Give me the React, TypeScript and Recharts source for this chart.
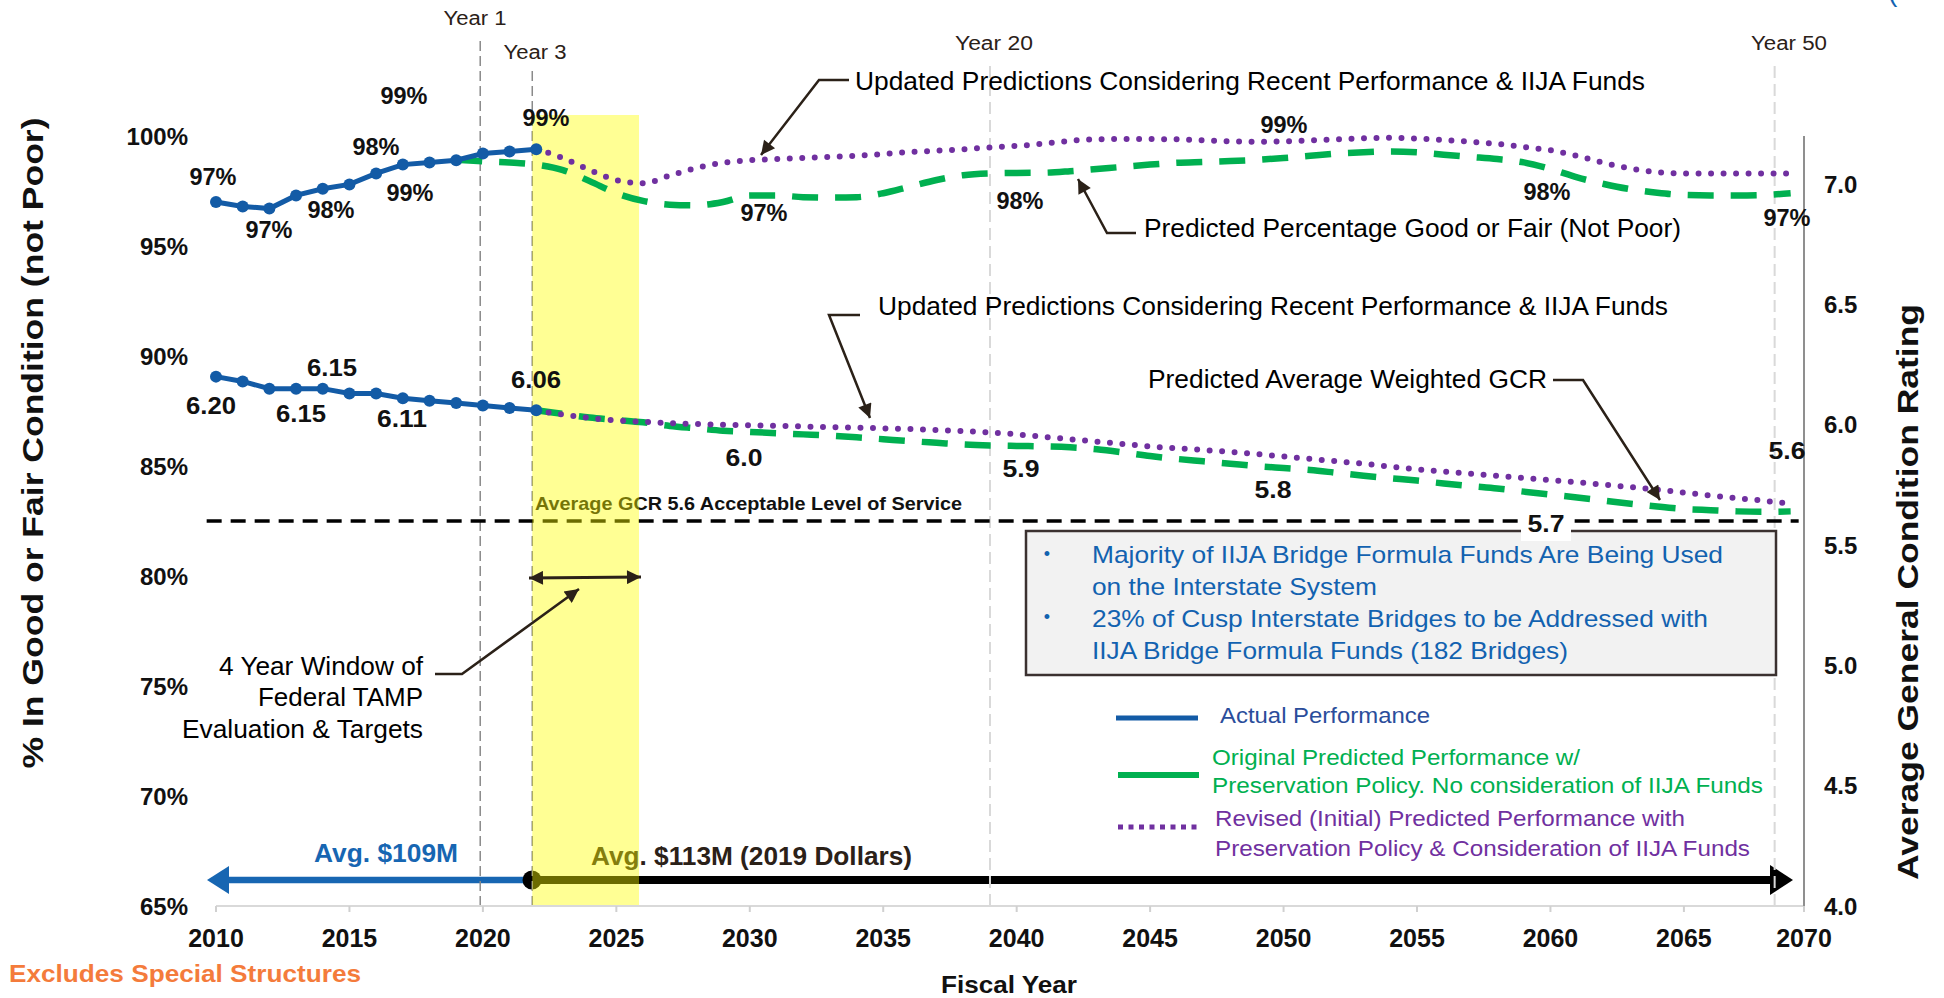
import React from 'react';
import {
  ComposedChart,
  Line,
  XAxis,
  YAxis,
  ReferenceLine,
  ReferenceArea,
} from 'recharts';

// ---- data ----
const fiscalYears = [
  2010, 2011, 2012, 2013, 2014, 2015, 2016, 2017, 2018, 2019,
  2020, 2021, 2022, 2023, 2024, 2025, 2026, 2027, 2028, 2029,
  2030, 2031, 2032, 2033, 2034, 2035, 2036, 2037, 2038, 2039,
  2040, 2041, 2042, 2043, 2044, 2045, 2046, 2047, 2048, 2049,
  2050, 2051, 2052, 2053, 2054, 2055, 2056, 2057, 2058, 2059,
  2060, 2061, 2062, 2063, 2064, 2065, 2066, 2067, 2068, 2069,
];

// actual performance 2010-2022
const actualStart = 2010;
const actualPct = [97.0, 96.8, 96.7, 97.3, 97.6, 97.8, 98.3, 98.7, 98.8, 98.9, 99.2, 99.3, 99.4];
const actualGcr = [6.2, 6.18, 6.15, 6.15, 6.15, 6.13, 6.13, 6.11, 6.1, 6.09, 6.08, 6.07, 6.06];

// original predicted % good/fair 2019-2069
const originalPctStart = 2019;
const originalPct = [
  98.92, 98.85, 98.8, 98.7, 98.45, 97.95, 97.4, 97.05, 96.88, 96.85, 97.0,
  97.3, 97.3, 97.22, 97.2, 97.22, 97.4, 97.7, 98.0, 98.22, 98.3,
  98.32, 98.33, 98.4, 98.5, 98.6, 98.7, 98.78, 98.82, 98.86, 98.92,
  99.0, 99.1, 99.2, 99.26, 99.3, 99.26, 99.15, 99.05, 98.95, 98.8,
  98.5, 98.12, 97.82, 97.58, 97.42, 97.32, 97.3, 97.3, 97.32, 97.4,
];

// predictions 2022-2069
const predictStart = 2022;
const revisedPct = [
  99.4, 99.0, 98.45, 98.0, 97.85, 98.2, 98.55, 98.78,
  98.9, 98.95, 99.0, 99.05, 99.1, 99.18, 99.27, 99.33, 99.4, 99.48,
  99.55, 99.65, 99.78, 99.85, 99.86, 99.86, 99.85, 99.8, 99.76, 99.74,
  99.75, 99.8, 99.85, 99.9, 99.92, 99.88, 99.82, 99.74, 99.64, 99.5,
  99.35, 99.1, 98.78, 98.52, 98.36, 98.3, 98.3, 98.3, 98.3, 98.3,
];
const originalGcr = [
  6.06, 6.045, 6.03, 6.02, 6.01, 5.995, 5.985, 5.975,
  5.97, 5.965, 5.96, 5.955, 5.948, 5.94, 5.932, 5.925, 5.918, 5.914,
  5.912, 5.91, 5.906, 5.898, 5.885, 5.87, 5.858, 5.848, 5.838, 5.828,
  5.82, 5.812, 5.8, 5.788, 5.778, 5.768, 5.756, 5.745, 5.735, 5.722,
  5.71, 5.698, 5.685, 5.672, 5.66, 5.65, 5.645, 5.64, 5.638, 5.64,
];
const revisedGcr = [
  6.06, 6.042, 6.028, 6.018, 6.012, 6.007, 6.003, 6.0,
  5.998, 5.996, 5.993, 5.99, 5.988, 5.985, 5.982, 5.978, 5.974, 5.968,
  5.96, 5.95, 5.94, 5.93, 5.92, 5.91, 5.902, 5.895, 5.887, 5.878,
  5.868, 5.858, 5.848, 5.838, 5.826, 5.815, 5.806, 5.797, 5.788, 5.779,
  5.77, 5.761, 5.751, 5.741, 5.73, 5.718, 5.706, 5.695, 5.684, 5.672,
];

const xTicks = [2010, 2015, 2020, 2025, 2030, 2035, 2040, 2045, 2050, 2055, 2060, 2065, 2069.5];
const xTickLabels = ['2010', '2015', '2020', '2025', '2030', '2035', '2040', '2045', '2050', '2055', '2060', '2065', '2070'];
const pctTicks = [65, 70, 75, 80, 85, 90, 95, 100];
const gcrTicks = [4.0, 4.5, 5.0, 5.5, 6.0, 6.5, 7.0];

const pick = (arr: number[], start: number, year: number) => {
  const i = year - start;
  return i >= 0 && i < arr.length ? arr[i] : null;
};

const rows = fiscalYears.map((year) => ({
  year,
  actualPct: pick(actualPct, actualStart, year),
  actualGcr: pick(actualGcr, actualStart, year),
  originalPct: pick(originalPct, originalPctStart, year),
  revisedPct: pick(revisedPct, predictStart, year),
  originalGcr: pick(originalGcr, predictStart, year),
  revisedGcr: pick(revisedGcr, predictStart, year),
}));

// ---- layout ----
const W = 1944;
const H = 998;
const PLOT = { left: 216, right: 1804, top: 136, bottom: 906 };
const LEFT_AXIS_W = 80;
const RIGHT_AXIS_W = 100;
const X_AXIS_H = 60;

const FONT = '"Liberation Sans", Arial, Helvetica, sans-serif';
const INK = '#2b2118';
const BLUE = '#135ba6';
const GREEN = '#00B050';
const PURPLE = '#7030A0';
const TEXT_BLUE = '#1262b0';

// left-axis value for a pixel row (used for the marker lines that reach above the plot)
const pctAtPx = (px: number) => 100 + ((PLOT.top - px) * 35) / (PLOT.bottom - PLOT.top);

const yearMarkers = [
  { label: 'Year 1', year: 2019.9, top: 38, stroke: '#8a8a8a', cx: 475, cy: 18, len: 63 },
  { label: 'Year 3', year: 2021.85, top: 70, stroke: '#8a8a8a', cx: 535, cy: 52, len: 63 },
  { label: 'Year 20', year: 2039, top: 62, stroke: '#d9d9d9', cx: 994, cy: 43, len: 78 },
  { label: 'Year 50', year: 2068.4, top: 62, stroke: '#d9d9d9', cx: 1789, cy: 43, len: 76 },
];

const pctLabels = [
  { t: '99%', x: 404, y: 96 },
  { t: '99%', x: 546, y: 118 },
  { t: '98%', x: 376, y: 147 },
  { t: '97%', x: 213, y: 177 },
  { t: '99%', x: 410, y: 193 },
  { t: '98%', x: 331, y: 210 },
  { t: '97%', x: 269, y: 230 },
  { t: '97%', x: 764, y: 213 },
  { t: '98%', x: 1020, y: 201 },
  { t: '99%', x: 1284, y: 125 },
  { t: '98%', x: 1547, y: 192 },
  { t: '97%', x: 1787, y: 218 },
];

const gcrLabels = [
  { t: '6.15', x: 332, y: 368 },
  { t: '6.06', x: 536, y: 380 },
  { t: '6.20', x: 211, y: 406 },
  { t: '6.15', x: 301, y: 414 },
  { t: '6.11', x: 402, y: 419 },
  { t: '6.0', x: 744, y: 458 },
  { t: '5.9', x: 1021, y: 469 },
  { t: '5.8', x: 1273, y: 490 },
  { t: '5.6', x: 1787, y: 451 },
];

type TxtProps = {
  x: number;
  cy: number;
  size: number;
  children: React.ReactNode;
  bold?: boolean;
  anchor?: 'start' | 'middle' | 'end';
  fill?: string;
  len?: number;
};

const Txt = ({ x, cy, size, children, bold, anchor = 'start', fill = '#000', len }: TxtProps) => (
  <text
    x={x}
    y={cy + size * 0.35}
    fontSize={size}
    fontFamily={FONT}
    fontWeight={bold ? 'bold' : 'normal'}
    textAnchor={anchor}
    fill={fill}
    textLength={len}
    lengthAdjust={len ? 'spacingAndGlyphs' : undefined}
  >
    {children}
  </text>
);

const XTick = (props: any) => {
  const { x, y, payload } = props;
  const label = xTickLabels[xTicks.indexOf(payload.value)];
  return (
    <text x={x} y={y + 35} textAnchor="middle" fontSize={25} fontWeight="bold" fontFamily={FONT} fill="#111">
      {label}
    </text>
  );
};

const LeftTick = (props: any) => {
  const { x, y, payload } = props;
  return (
    <text x={x} y={y + 8.5} textAnchor="end" fontSize={24} fontWeight="bold" fontFamily={FONT} fill="#111">
      {`${payload.value}%`}
    </text>
  );
};

const RightTick = (props: any) => {
  const { x, y, payload } = props;
  return (
    <text x={x} y={y + 8.5} textAnchor="start" fontSize={24} fontWeight="bold" fontFamily={FONT} fill="#111">
      {Number(payload.value).toFixed(1)}
    </text>
  );
};

// things painted underneath the yellow window (they come out olive inside it)
const Underlay = () => (
  <svg width={W} height={H} style={{ position: 'absolute', left: 0, top: 0 }}>
    <Txt x={535} cy={503} size={19} bold len={427} fill="#111">
      Average GCR 5.6 Acceptable Level of Service
    </Txt>

    {/* spending arrows */}
    <line x1={532} y1={880} x2={224} y2={880} stroke="#1766b2" strokeWidth={6.5} />
    <polygon points="207,880 229,866 229,894" fill="#1766b2" />
    <Txt x={314} cy={853} size={25} bold len={144} fill="#1766b2">
      Avg. $109M
    </Txt>
    <line x1={532} y1={880} x2={1772} y2={880} stroke="#000" strokeWidth={8} />
    <polygon points="1793,880 1770,865 1770,895" fill="#000" />
    <circle cx={532} cy={880} r={9.5} fill="#000" />
    <Txt x={591} cy={856} size={25} bold len={321} fill={INK}>
      Avg. $113M (2019 Dollars)
    </Txt>
  </svg>
);

const Overlay = () => (
  <svg width={W} height={H} style={{ position: 'absolute', left: 0, top: 0, pointerEvents: 'none' }}>
    <defs>
      <marker
        id="ah"
        viewBox="0 0 10 10"
        refX="10"
        refY="5"
        markerWidth="17"
        markerHeight="14"
        markerUnits="userSpaceOnUse"
        orient="auto-start-reverse"
      >
        <path d="M0,0 L10,5 L0,10 z" fill={INK} />
      </marker>
    </defs>

    {/* cut-off title glyph at top right */}
    <text x={1888} y={1} fontSize={28} fontFamily={FONT} fill={TEXT_BLUE}>(</text>

    {yearMarkers.map((m) => (
      <Txt key={m.label} x={m.cx} cy={m.cy} size={20} anchor="middle" len={m.len} fill={INK}>
        {m.label}
      </Txt>
    ))}

    {pctLabels.map((l, i) => (
      <Txt key={`p${i}`} x={l.x} cy={l.y} size={24} bold anchor="middle" len={47} fill="#111">
        {l.t}
      </Txt>
    ))}
    {gcrLabels.map((l, i) => (
      <Txt
        key={`g${i}`}
        x={l.x}
        cy={l.y}
        size={24}
        bold
        anchor="middle"
        len={l.t.length > 3 ? 50 : 37}
        fill="#111"
      >
        {l.t}
      </Txt>
    ))}

    {/* callouts */}
    <Txt x={855} cy={81} size={26} len={790}>
      Updated Predictions Considering Recent Performance &amp; IIJA Funds
    </Txt>
    <polyline points="849,80 819,80 761,155" fill="none" stroke={INK} strokeWidth={2.5} markerEnd="url(#ah)" />

    <Txt x={1144} cy={228} size={26} len={537}>
      Predicted Percentage Good or Fair (Not Poor)
    </Txt>
    <polyline points="1136,233 1107,233 1078,179" fill="none" stroke={INK} strokeWidth={2.5} markerEnd="url(#ah)" />

    <Txt x={878} cy={306} size={26} len={790}>
      Updated Predictions Considering Recent Performance &amp; IIJA Funds
    </Txt>
    <polyline points="860,315 829,315 870,418" fill="none" stroke={INK} strokeWidth={2.5} markerEnd="url(#ah)" />

    <Txt x={1148} cy={379} size={26} len={399}>
      Predicted Average Weighted GCR
    </Txt>
    <polyline points="1553,380 1583,380 1660,500" fill="none" stroke={INK} strokeWidth={2.5} markerEnd="url(#ah)" />

    <Txt x={423} cy={666} size={26} anchor="end" len={204}>4 Year Window of</Txt>
    <Txt x={423} cy={697} size={26} anchor="end" len={165}>Federal TAMP</Txt>
    <Txt x={423} cy={729} size={26} anchor="end" len={241}>Evaluation &amp; Targets</Txt>
    <polyline points="435,674 462,674 579,589" fill="none" stroke={INK} strokeWidth={2.5} markerEnd="url(#ah)" />
    <line x1={529} y1={578} x2={641} y2={577} stroke={INK} strokeWidth={3} markerStart="url(#ah)" markerEnd="url(#ah)" />

    {/* info box */}
    <rect x={1026} y={531} width={750} height={144} fill="#f2f2f2" stroke="#3b3130" strokeWidth={2.5} />
    <Txt x={1047} cy={554} size={18} anchor="middle" fill={TEXT_BLUE}>•</Txt>
    <Txt x={1047} cy={617} size={18} anchor="middle" fill={TEXT_BLUE}>•</Txt>
    <Txt x={1092} cy={555} size={24} len={631} fill={TEXT_BLUE}>
      Majority of IIJA Bridge Formula Funds Are Being Used
    </Txt>
    <Txt x={1092} cy={587} size={24} len={285} fill={TEXT_BLUE}>
      on the Interstate System
    </Txt>
    <Txt x={1092} cy={619} size={24} len={616} fill={TEXT_BLUE}>
      23% of Cusp Interstate Bridges to be Addressed with
    </Txt>
    <Txt x={1092} cy={651} size={24} len={476} fill={TEXT_BLUE}>
      IIJA Bridge Formula Funds (182 Bridges)
    </Txt>

    {/* 5.7 label sits on a white patch over the dashed line */}
    <rect x={1521} y={508} width={50} height={33} fill="#fff" />
    <Txt x={1546} cy={524} size={24} bold anchor="middle" len={37} fill="#111">5.7</Txt>

    {/* legend */}
    <line x1={1116} y1={718} x2={1198} y2={718} stroke={BLUE} strokeWidth={5} />
    <Txt x={1220} cy={715} size={22} len={210} fill="#2a4d9b">Actual Performance</Txt>
    <line x1={1118} y1={775} x2={1199} y2={775} stroke={GREEN} strokeWidth={6} />
    <Txt x={1212} cy={757} size={22} len={368} fill={GREEN}>Original Predicted Performance w/</Txt>
    <Txt x={1212} cy={785} size={22} len={551} fill={GREEN}>
      Preservation Policy. No consideration of IIJA Funds
    </Txt>
    <line x1={1118} y1={827} x2={1198} y2={827} stroke={PURPLE} strokeWidth={5} strokeDasharray="5 5.5" />
    <Txt x={1215} cy={818} size={22} len={470} fill={PURPLE}>
      Revised (Initial) Predicted Performance with
    </Txt>
    <Txt x={1215} cy={848} size={22} len={535} fill={PURPLE}>
      Preservation Policy &amp; Consideration of IIJA Funds
    </Txt>

    {/* axis titles */}
    <g transform="rotate(-90 32 443)">
      <Txt x={32} cy={443} size={30} bold anchor="middle" len={651} fill="#111">
        % In Good or Fair Condition (not Poor)
      </Txt>
    </g>
    <g transform="rotate(-90 1907 592)">
      <Txt x={1907} cy={592} size={30} bold anchor="middle" len={576} fill="#111">
        Average General Condition Rating
      </Txt>
    </g>
    <Txt x={1009} cy={985} size={24} bold anchor="middle" len={136} fill="#111">Fiscal Year</Txt>
    <Txt x={9} cy={974} size={24} bold len={352} fill="#f47b3b">Excludes Special Structures</Txt>
  </svg>
);

export default function App() {
  return (
    <div style={{ position: 'relative', width: W, height: H, background: '#fff', fontFamily: FONT }}>
      <style>{'body{margin:0}'}</style>
      <Underlay />
      <div style={{ position: 'absolute', left: 0, top: 0 }}>
        <ComposedChart
          width={W}
          height={H}
          data={rows}
          margin={{
            top: PLOT.top,
            left: PLOT.left - LEFT_AXIS_W,
            right: W - PLOT.right - RIGHT_AXIS_W,
            bottom: H - PLOT.bottom - X_AXIS_H,
          }}
        >
          <XAxis
            dataKey="year"
            type="number"
            domain={[2010, 2069.5]}
            ticks={xTicks}
            interval={0}
            height={X_AXIS_H}
            axisLine={{ stroke: '#d9d9d9', strokeWidth: 2 }}
            tickLine={{ stroke: '#d0d0d0', strokeWidth: 2 }}
            tickSize={6}
            tickMargin={0}
            tick={<XTick />}
          />
          <YAxis
            yAxisId="left"
            orientation="left"
            type="number"
            domain={[65, 100]}
            ticks={pctTicks}
            interval={0}
            width={LEFT_AXIS_W}
            axisLine={false}
            tickLine={false}
            tickSize={0}
            tickMargin={28}
            tick={<LeftTick />}
          />
          <YAxis
            yAxisId="right"
            orientation="right"
            type="number"
            domain={[4, 7.2]}
            ticks={gcrTicks}
            interval={0}
            width={RIGHT_AXIS_W}
            axisLine={{ stroke: '#8f8f8f', strokeWidth: 2 }}
            tickLine={false}
            tickSize={0}
            tickMargin={20}
            tick={<RightTick />}
          />

          {yearMarkers.map((m) => (
            <ReferenceLine
              key={m.label}
              yAxisId="left"
              segment={[
                { x: m.year, y: 65 },
                { x: m.year, y: pctAtPx(m.top) },
              ]}
              stroke={m.stroke}
              strokeWidth={m.stroke === '#d9d9d9' ? 2 : 1.5}
              strokeDasharray={m.stroke === '#d9d9d9' ? '12 6' : '10 5'}
              ifOverflow="visible"
              zIndex={50}
            />
          ))}
          <ReferenceLine
            yAxisId="right"
            segment={[
              { x: 2009.65, y: 5.6 },
              { x: 2069.3, y: 5.6 },
            ]}
            stroke="#000"
            strokeWidth={3.5}
            strokeDasharray="15 9"
            ifOverflow="visible"
            zIndex={50}
          />

          <ReferenceArea
            yAxisId="left"
            x1={2021.85}
            x2={2025.85}
            y1={65}
            y2={pctAtPx(115)}
            fill="#FFFF00"
            fillOpacity={0.42}
            stroke="none"
            ifOverflow="visible"
            zIndex={60}
          />

          <Line
            yAxisId="left"
            dataKey="originalPct"
            type="monotone"
            stroke={GREEN}
            strokeWidth={6.5}
            strokeDasharray="26 17"
            dot={false}
            activeDot={false}
            isAnimationActive={false}
          />
          <Line
            yAxisId="right"
            dataKey="originalGcr"
            type="monotone"
            stroke={GREEN}
            strokeWidth={6.5}
            strokeDasharray="26 17"
            dot={false}
            activeDot={false}
            isAnimationActive={false}
          />
          <Line
            yAxisId="left"
            dataKey="revisedPct"
            type="monotone"
            stroke={PURPLE}
            strokeWidth={6}
            strokeDasharray="0 12.5"
            strokeLinecap="round"
            dot={false}
            activeDot={false}
            isAnimationActive={false}
          />
          <Line
            yAxisId="right"
            dataKey="revisedGcr"
            type="monotone"
            stroke={PURPLE}
            strokeWidth={6}
            strokeDasharray="0 12.5"
            strokeLinecap="round"
            dot={false}
            activeDot={false}
            isAnimationActive={false}
          />
          <Line
            yAxisId="left"
            dataKey="actualPct"
            type="linear"
            stroke={BLUE}
            strokeWidth={5}
            dot={{ r: 6, fill: BLUE, stroke: BLUE, strokeWidth: 0 }}
            activeDot={false}
            isAnimationActive={false}
          />
          <Line
            yAxisId="right"
            dataKey="actualGcr"
            type="linear"
            stroke={BLUE}
            strokeWidth={5}
            dot={{ r: 6, fill: BLUE, stroke: BLUE, strokeWidth: 0 }}
            activeDot={false}
            isAnimationActive={false}
          />
        </ComposedChart>
      </div>
      <Overlay />
    </div>
  );
}
